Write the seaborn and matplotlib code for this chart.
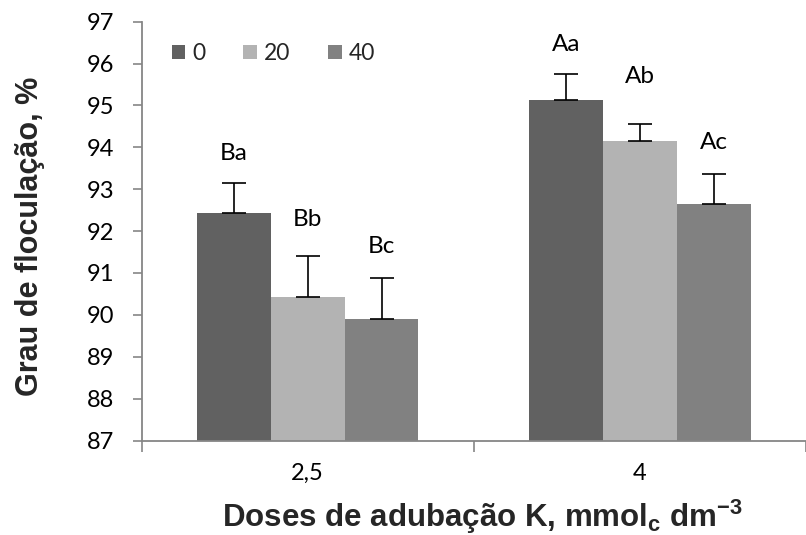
import matplotlib
matplotlib.use("Agg")
import matplotlib.pyplot as plt
from matplotlib.patches import Patch
import seaborn as sns
import pandas as pd

# Data: flocculation degree (%) by K fertilisation dose and level
doses = ["2,5", "4"]
levels = ["0", "20", "40"]
means_0 = [92.43, 95.12]
means_20 = [90.42, 94.16]
means_40 = [89.89, 92.65]
err_0 = [0.73, 0.62]
err_20 = [0.98, 0.39]
err_40 = [1.00, 0.71]
letters_0 = ["Ba", "Aa"]
letters_20 = ["Bb", "Ab"]
letters_40 = ["Bc", "Ac"]
yticks = [87, 88, 89, 90, 91, 92, 93, 94, 95, 96, 97]

colors = ["#616161", "#b3b3b3", "#818181"]
axis_gray = "#868686"
# vertical gap (points) between each error-bar cap and its letter
letter_pad = [[13, 14], [19, 27], [15, 15]]

sns.set_theme(style="white")
plt.rcParams["font.family"] = ["Lato", "DejaVu Sans"]
plt.rcParams["mathtext.fontset"] = "custom"
plt.rcParams["mathtext.rm"] = "Liberation Sans"
plt.rcParams["mathtext.bf"] = "Liberation Sans:bold"

df = pd.DataFrame({
    "dose": doses * 3,
    "level": [lv for lv in levels for _ in doses],
    "value": means_0 + means_20 + means_40,
})

fig = plt.figure(figsize=(8.06, 5.35), dpi=100)
ax = fig.add_axes([141.6 / 806, 94.5 / 535, (806 - 141.6) / 806, (440.5 - 21.7) / 535])

sns.barplot(data=df, x="dose", y="value", hue="level", order=doses,
            hue_order=levels, palette=colors, saturation=1, width=0.667,
            gap=0, linewidth=0, errorbar=None, legend=False, ax=ax)

errs = [err_0, err_20, err_40]
letters = [letters_0, letters_20, letters_40]
bar_groups = list(ax.containers)
for i, cont in enumerate(bar_groups):
    xs = [b.get_x() + b.get_width() / 2 for b in cont]
    hs = [b.get_height() for b in cont]
    ax.errorbar(xs, hs, yerr=[[0] * len(errs[i]), errs[i]], fmt="none",
                ecolor="black", elinewidth=1.2, capsize=8.5, capthick=1.2,
                zorder=5)
    for x, h, e, lab, pad in zip(xs, hs, errs[i], letters[i], letter_pad[i]):
        ax.annotate(lab, (x, h + e), xytext=(0, pad), textcoords="offset points",
                    ha="center", va="bottom", fontsize=17.5, color="black")

ax.set_ylim(87, 97)
ax.set_yticks(yticks)
ax.set_xlim(-0.5, 1.5 - 11 / 337.5)
ax.set_xticks([0, 1])
ax.set_xticklabels(doses)
ax.set_xticks([-0.5, 0.5, 1.5], minor=True)

for s in ["top", "right"]:
    ax.spines[s].set_visible(False)
for s in ["left", "bottom"]:
    ax.spines[s].set_color(axis_gray)
    ax.spines[s].set_linewidth(1.3)

ax.tick_params(axis="y", which="major", direction="out", length=6.5, width=1.2,
               color=axis_gray, labelsize=17, labelcolor="black", pad=13, left=True)
ax.tick_params(axis="x", which="major", length=0, labelsize=17,
               labelcolor="black", pad=16)
ax.tick_params(axis="x", which="minor", direction="out", length=8, width=1.2,
               color=axis_gray, bottom=True)

ax.set_xlabel("")
ax.set_ylabel("")
fig.text(482 / 806, 1 - 527 / 535,
         r"Doses de adubação K, mmol$_{\mathbf{c}}$ dm$^{\mathbf{-3}}$",
         ha="center", va="baseline", fontsize=22.5, fontweight="bold",
         family="Liberation Sans")
fig.text(30 / 806, 1 - 236 / 535, "Grau de floculação, %", rotation=90,
         ha="center", va="center", fontsize=22, fontweight="bold",
         family="Liberation Sans")

handles = [Patch(facecolor=c, edgecolor="none", label=l) for c, l in zip(colors, levels)]
fig.legend(handles=handles, loc="center left", ncol=3, frameon=False,
           bbox_to_anchor=(171.7 / 806, 1 - 53.7 / 535), borderpad=0,
           borderaxespad=0, handlelength=0.6, handleheight=0.6,
           handletextpad=0.3, columnspacing=1.65, fontsize=16.5)

fig.savefig("out.png", dpi=100, facecolor="white")
